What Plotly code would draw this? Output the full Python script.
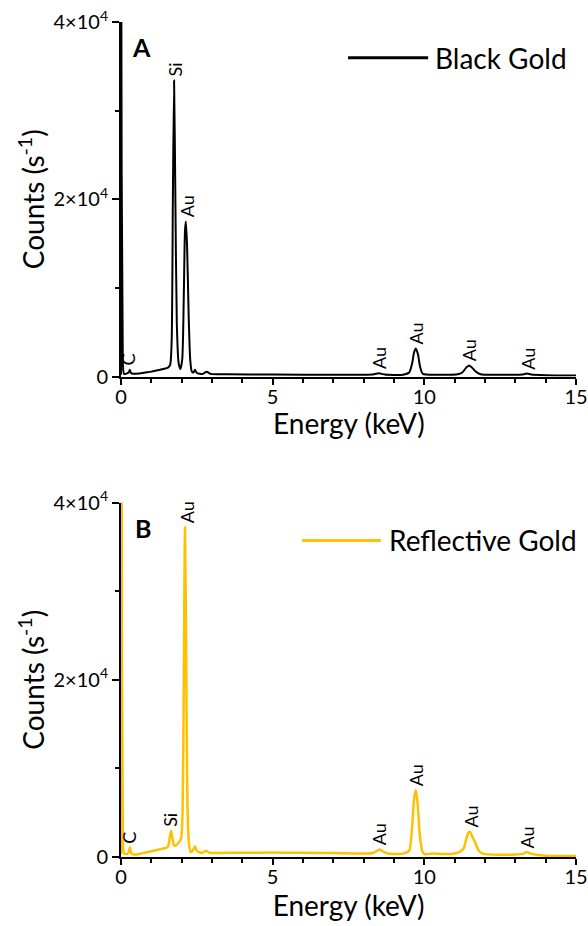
import plotly.graph_objects as go
from plotly.subplots import make_subplots

# ---------------- data ----------------
black_energy = [0.00, 0.01, 0.06, 0.10, 0.20, 0.26, 0.29, 0.33, 0.40, 0.60, 0.80, 1.00, 1.20, 1.40,
                1.55, 1.62, 1.67, 1.71, 1.75, 1.79, 1.84, 1.90, 1.96, 2.02, 2.07, 2.11, 2.14, 2.18,
                2.23, 2.28, 2.33, 2.39, 2.44, 2.50, 2.70, 2.82, 2.95, 3.50, 5.00, 7.00, 8.30, 8.50,
                8.70, 9.30, 9.50, 9.60, 9.66, 9.72, 9.79, 9.86, 9.95, 10.50, 11.10, 11.25, 11.38,
                11.47, 11.56, 11.68, 11.85, 12.50, 13.25, 13.38, 13.52, 14.00, 15.00]
black_counts = [200, 45000, 1500, 300, 350, 500, 750, 400, 300, 350, 450, 550, 700, 850,
                1000, 1300, 4000, 20000, 33400, 21000, 6000, 1500, 850, 2000, 9000, 16500, 17500, 14500,
                7000, 2000, 600, 450, 750, 400, 300, 550, 300, 250, 220, 200, 220, 380,
                220, 200, 450, 1500, 2700, 3150, 2500, 1100, 300, 200, 250, 450, 1000,
                1250, 1050, 600, 260, 200, 220, 330, 220, 150, 120]

refl_energy = [0.00, 0.02, 0.06, 0.10, 0.20, 0.26, 0.29, 0.33, 0.40, 0.60, 0.80, 1.00, 1.20, 1.40,
               1.50, 1.55, 1.60, 1.65, 1.70, 1.75, 1.80, 1.90, 1.98, 2.03, 2.07, 2.11, 2.15, 2.19,
               2.24, 2.30, 2.38, 2.44, 2.50, 2.60, 2.70, 2.80, 2.90, 3.00, 3.50, 4.00, 5.00, 6.00,
               7.00, 8.00, 8.30, 8.45, 8.53, 8.62, 8.80, 9.00, 9.30, 9.50, 9.60, 9.66, 9.72, 9.78,
               9.85, 9.93, 10.00, 10.30, 10.60, 11.00, 11.20, 11.30, 11.38, 11.45, 11.50, 11.58,
               11.68, 11.80, 11.95, 12.50, 13.00, 13.25, 13.38, 13.50, 13.70, 14.00, 15.00]
refl_counts = [300, 45000, 2000, 400, 350, 600, 1100, 500, 300, 350, 500, 650, 800, 950,
               1050, 1200, 2000, 3000, 2000, 1300, 1300, 1600, 2100, 5000, 20000, 37200, 22000, 6000,
               1500, 550, 800, 1200, 700, 500, 500, 700, 500, 450, 470, 480, 500, 480,
               440, 400, 450, 700, 850, 650, 400, 350, 380, 700, 3500, 6500, 7550, 6000,
               2500, 700, 320, 400, 330, 400, 650, 1000, 2000, 2750, 2850, 2300,
               1600, 700, 350, 250, 280, 350, 560, 380, 250, 150, 100]

black_label_text = ["C", "Si", "Au", "Au", "Au", "Au", "Au"]
black_label_energy = [0.22, 1.78, 2.20, 8.50, 9.72, 11.50, 13.39]
black_label_counts = [750, 33400, 17500, 380, 3150, 1250, 330]

refl_label_text = ["C", "Si", "Au", "Au", "Au", "Au", "Au"]
refl_label_energy = [0.28, 1.63, 2.17, 8.53, 9.73, 11.53, 13.40]
refl_label_counts = [1100, 3000, 37200, 850, 7550, 2850, 560]

series_names = ["Black Gold", "Reflective Gold"]
panel_letters = ["A", "B"]
x_title = "Energy (keV)"
y_title = "Counts (s<sup>-1</sup>)"
x_tickvals = [0, 5, 10, 15]
y_tickvals = [0, 20000, 40000]
y_ticktext = ["0", "2×10<sup>4</sup>", "4×10<sup>4</sup>"]

# ---------------- figure ----------------
BLACK = "#000000"
GOLD = "#FFC000"
FONT = "Lato"

fig = make_subplots(rows=2, cols=1, vertical_spacing=126 / 835)

fig.add_trace(go.Scatter(x=black_energy, y=black_counts, mode="lines", name=series_names[0],
                         line=dict(color=BLACK, width=2, shape="spline", smoothing=0.6),
                         showlegend=False), row=1, col=1)
fig.add_trace(go.Scatter(x=refl_energy, y=refl_counts, mode="lines", name=series_names[1],
                         line=dict(color=GOLD, width=2.5, shape="spline", smoothing=0.6),
                         showlegend=False), row=2, col=1)

axis_common = dict(showline=True, linecolor="black", linewidth=2, ticks="outside",
                   tickwidth=2, tickcolor="black", showgrid=False, zeroline=False,
                   automargin=False,
                   tickfont=dict(family=FONT, size=20, color="black"))

for r in (1, 2):
    fig.update_xaxes(range=[0, 15], tickmode="array", tickvals=x_tickvals, ticklen=6,
                     ticklabelstandoff=-5,
                     minor=dict(tickmode="linear", tick0=0, dtick=1, ticklen=4, ticks="outside",
                                tickwidth=1.5, tickcolor="black"),
                     row=r, col=1, **axis_common)
    fig.update_yaxes(range=[0, 40000], tickmode="array", tickvals=y_tickvals, ticktext=y_ticktext,
                     ticklen=7,
                     minor=dict(tickmode="linear", tick0=0, dtick=10000, ticklen=4, ticks="outside",
                                tickwidth=1.5, tickcolor="black"),
                     title=dict(text=y_title, font=dict(family=FONT, size=28, color="black"),
                                standoff=1),
                     row=r, col=1, **axis_common)

# bottom panel x title via axis; top panel title sits tighter in the reference
fig.update_xaxes(title=dict(text=x_title, font=dict(family=FONT, size=28, color="black"),
                            standoff=7), row=2, col=1)

annotations = []
annotations.append(dict(x=0.5, y=-0.13, xref="x domain", yref="y domain", text=x_title,
                        showarrow=False, xanchor="center", yanchor="middle", borderpad=0,
                        font=dict(family=FONT, size=28, color="black")))

for xs, ys, txt, xr, yr in [(black_label_energy, black_label_counts, black_label_text, "x", "y"),
                            (refl_label_energy, refl_label_counts, refl_label_text, "x2", "y2")]:
    for xv, yv, t in zip(xs, ys, txt):
        annotations.append(dict(x=xv, y=yv, xref=xr, yref=yr, text=t, showarrow=False,
                                textangle=-90, xanchor="center", yanchor="bottom", yshift=2,
                                font=dict(family=FONT, size=18, color="black")))

# panel letters
annotations.append(dict(x=0.044, y=0.93, xref="x domain", yref="y domain", text="<b>A</b>",
                        showarrow=False, xanchor="center", yanchor="middle",
                        font=dict(family=FONT, size=25, color="black")))
annotations.append(dict(x=0.048, y=0.927, xref="x2 domain", yref="y2 domain", text="<b>B</b>",
                        showarrow=False, xanchor="center", yanchor="middle",
                        font=dict(family=FONT, size=25, color="black")))

# legend-like entries
annotations.append(dict(x=0.686, y=0.899, xref="x domain", yref="y domain", text=series_names[0],
                        showarrow=False, xanchor="left", yanchor="middle",
                        font=dict(family=FONT, size=28, color="black")))
annotations.append(dict(x=0.585, y=0.893, xref="x2 domain", yref="y2 domain", text=series_names[1],
                        showarrow=False, xanchor="left", yanchor="middle",
                        font=dict(family=FONT, size=28, color="black")))

shapes = [
    dict(type="line", xref="x domain", yref="y domain", x0=0.499, x1=0.675, y0=0.899, y1=0.899,
         line=dict(color=BLACK, width=3)),
    dict(type="line", xref="x2 domain", yref="y2 domain", x0=0.398, x1=0.571, y0=0.893, y1=0.893,
         line=dict(color=GOLD, width=3)),
]

fig.update_layout(width=588, height=926, margin=dict(l=121, r=12, t=22, b=69),
                  paper_bgcolor="white", plot_bgcolor="white",
                  font=dict(family=FONT, color="black"),
                  annotations=annotations, shapes=shapes, showlegend=False)

fig.write_html("out.html")
